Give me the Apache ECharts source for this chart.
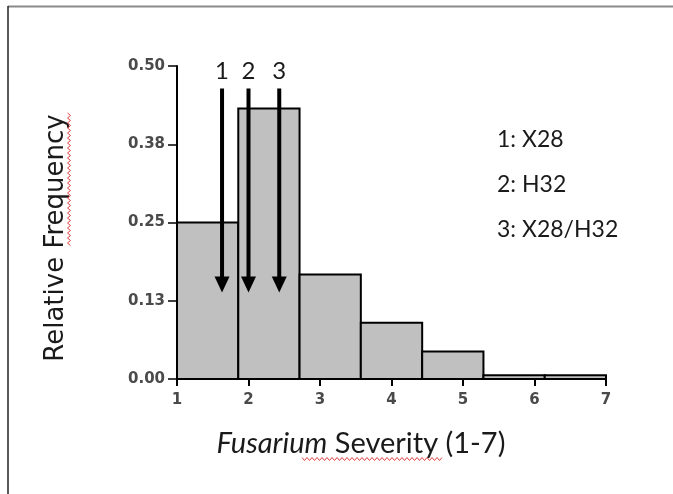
<!DOCTYPE html>
<html>
<head>
<meta charset="utf-8">
<script src="https://cdn.jsdelivr.net/npm/echarts@6/dist/echarts.min.js"></script>
<style>
  html, body { margin: 0; padding: 0; background: #fff; }
  #chart { width: 673px; height: 494px; }
</style>
</head>
<body>
<div id="chart"></div>
<script>
// histogram bins (severity scale 1-7, seven equal bins)
var binEdges = [1, 1.857, 2.714, 3.571, 4.429, 5.286, 6.143, 7];
var relFreq = [0.25, 0.432, 0.167, 0.090, 0.044, 0.006, 0.006];

// arrows for the three lines
var arrowLabels = ['1', '2', '3'];
var arrowX = [1.63, 2.0, 2.43];
var arrowTop = 0.464;
var arrowTip = 0.138;
var arrowLabelY = 0.492;

var legendLines = ['1: X28', '2: H32', '3: X28/H32'];

var chart = echarts.init(document.getElementById('chart'), null, {renderer: 'canvas'});

var histData = [];
for (var i = 0; i < relFreq.length; i++) {
  histData.push([binEdges[i], binEdges[i + 1], relFreq[i]]);
}
var arrowData = [];
for (var j = 0; j < arrowX.length; j++) {
  arrowData.push([arrowX[j], arrowTop, arrowTip, arrowLabelY, arrowLabels[j]]);
}

// red spell-check squiggles
function squiggleH(x0, x1, y) {
  var pts = [], k = 0;
  for (var x = x0; x <= x1; x += 2.5, k++) pts.push([x, y + (k % 2 ? 1.5 : -1.5)]);
  return pts;
}
function squiggleV(x, y0, y1) {
  var pts = [], k = 0;
  for (var y = y0; y <= y1; y += 2.5, k++) pts.push([x + (k % 2 ? 1.5 : -1.5), y]);
  return pts;
}

var graphics = [
  {type: 'line', shape: {x1: 8, y1: 6.5, x2: 673, y2: 6.5}, style: {stroke: '#8a8a8a', lineWidth: 2}, silent: true},
  {type: 'line', shape: {x1: 8, y1: 6, x2: 8, y2: 494}, style: {stroke: '#222', lineWidth: 1.5}, silent: true},
  {
    type: 'text', x: 56, y: 238, rotation: Math.PI / 2,
    style: {text: 'Relative Frequency', font: '26px "DejaVu Sans"', fill: '#1a1a1a',
            align: 'center', verticalAlign: 'middle', textAlign: 'center', textVerticalAlign: 'middle'}
  },
  {
    type: 'text', x: 361, y: 444,
    style: {
      text: '{i|Fusarium} Severity (1-7)', font: '29px Lato', fill: '#1a1a1a',
      align: 'center', verticalAlign: 'middle', textAlign: 'center', textVerticalAlign: 'middle',
      rich: {i: {fontStyle: 'italic', font: 'italic 29px Lato', fill: '#1a1a1a'}}
    }
  },
  {type: 'polyline', shape: {points: squiggleH(302, 443, 459)}, style: {stroke: '#e04040', lineWidth: 1, fill: null}, silent: true},
  {type: 'polyline', shape: {points: squiggleV(69, 113, 247)}, style: {stroke: '#e04040', lineWidth: 1, fill: null}, silent: true}
];
for (var m = 0; m < legendLines.length; m++) {
  graphics.push({
    type: 'text', x: 497, y: 140 + m * 45,
    style: {text: legendLines[m], font: '23px Lato', fill: '#1a1a1a',
            align: 'left', verticalAlign: 'middle', textAlign: 'left', textVerticalAlign: 'middle'}
  });
}

var option = {
  animation: false,
  backgroundColor: '#fff',
  grid: {left: 177, right: 67, top: 66, bottom: 115},
  xAxis: {
    type: 'value', min: 1, max: 7, interval: 1,
    splitLine: {show: false},
    axisLine: {lineStyle: {color: '#000', width: 2}},
    axisTick: {length: 7, lineStyle: {color: '#000', width: 2}},
    axisLabel: {margin: 14, fontFamily: 'DejaVu Sans', fontSize: 15, fontWeight: 'bold', color: '#4a4a4a'}
  },
  yAxis: {
    type: 'value', min: 0, max: 0.5, interval: 0.125,
    splitLine: {show: false},
    axisLine: {show: true, lineStyle: {color: '#000', width: 2}},
    axisTick: {show: true, length: 9, lineStyle: {color: '#000', width: 1.5}},
    axisLabel: {
      margin: 12, fontFamily: 'DejaVu Sans', fontSize: 15, fontWeight: 'bold', color: '#4a4a4a',
      formatter: function (v) { return v.toFixed(2); }
    }
  },
  series: [
    {
      type: 'custom',
      data: histData,
      encode: {x: [0, 1], y: 2},
      renderItem: function (params, api) {
        var p0 = api.coord([api.value(0), 0]);
        var p1 = api.coord([api.value(1), api.value(2)]);
        return {
          type: 'rect',
          shape: {x: p0[0], y: p1[1], width: p1[0] - p0[0], height: p0[1] - p1[1]},
          style: {fill: '#c0c0c0', stroke: '#000', lineWidth: 2}
        };
      }
    },
    {
      type: 'custom',
      data: arrowData,
      encode: {x: 0, y: [1, 2]},
      z: 5,
      renderItem: function (params, api) {
        var x = api.value(0);
        var top = api.coord([x, api.value(1)]);
        var tip = api.coord([x, api.value(2)]);
        var lab = api.coord([x, api.value(3)]);
        var headLen = 16, headHalf = 7.5;
        return {
          type: 'group',
          children: [
            {type: 'line', shape: {x1: top[0], y1: top[1], x2: tip[0], y2: tip[1] - headLen + 2},
             style: {stroke: '#000', lineWidth: 4}},
            {type: 'polygon', shape: {points: [[tip[0] - headHalf, tip[1] - headLen], [tip[0] + headHalf, tip[1] - headLen], [tip[0], tip[1]]]},
             style: {fill: '#000'}},
            {type: 'text', x: lab[0], y: lab[1],
             style: {text: arrowLabels[params.dataIndex], font: '24px Lato', fill: '#1a1a1a',
                     align: 'center', verticalAlign: 'middle'}}
          ]
        };
      }
    }
  ],
  graphic: graphics
};

chart.setOption(option);
</script>
</body>
</html>
